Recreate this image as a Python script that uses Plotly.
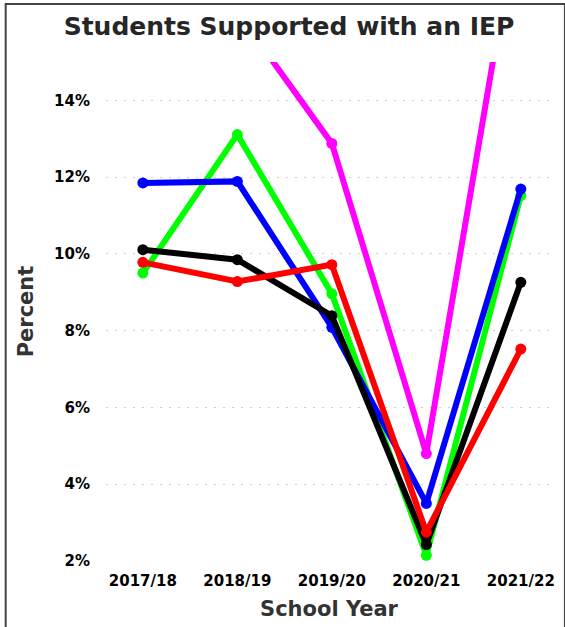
import plotly.graph_objects as go

years = ["2017/18", "2018/19", "2019/20", "2020/21", "2021/22"]
magenta_vals = [16.5, 16.3, 12.88, 4.8, 19.3]
green_vals = [9.5, 13.11, 8.96, 2.15, 11.52]
blue_vals = [11.85, 11.89, 8.09, 3.5, 11.69]
black_vals = [10.11, 9.85, 8.39, 2.43, 9.26]
red_vals = [9.78, 9.28, 9.72, 2.75, 7.52]
y_ticks = [2, 4, 6, 8, 10, 12, 14]
y_tick_labels = ["2%", "4%", "6%", "8%", "10%", "12%", "14%"]

series = [
    ("Magenta", magenta_vals, "#FF00FF"),
    ("Green", green_vals, "#00FF00"),
    ("Blue", blue_vals, "#0000FF"),
    ("Black", black_vals, "#000000"),
    ("Red", red_vals, "#FF0000"),
]

FONT = "DejaVu Sans"
xs = list(range(len(years)))

fig = go.Figure()
for name, vals, col in series:
    fig.add_trace(go.Scatter(
        x=xs, y=vals, name=name, mode="lines+markers",
        line=dict(color=col, width=6),
        marker=dict(color=col, size=11),
        showlegend=False,
    ))

W, H = 565, 627
L, R, T, B = 106, 10, 62, 66
pw, ph = W - L - R, H - T - B

fig.update_layout(
    width=W, height=H,
    margin=dict(l=L, r=R, t=T, b=B),
    paper_bgcolor="white", plot_bgcolor="white",
    title=dict(
        text="Students Supported with an IEP",
        font=dict(family=FONT, size=25, color="#262626", weight="bold"),
        x=289 / W, xref="container", xanchor="center",
        y=1 - 26 / H, yref="container", yanchor="middle",
    ),
    xaxis=dict(
        range=[-0.39, 4.33],
        tickvals=xs, ticktext=years,
        showgrid=False, zeroline=False, showline=False,
        ticks="outside", ticklen=6, tickcolor="rgba(0,0,0,0)",
        tickfont=dict(family=FONT, size=15, color="#000000", weight="bold"),
        title=dict(text="School Year", standoff=12,
                   font=dict(family=FONT, size=21, color="#333333", weight="bold")),
    ),
    yaxis=dict(
        range=[2, 15],
        tickmode="array", tickvals=y_ticks, ticktext=y_tick_labels,
        showgrid=True, gridcolor="#cfcfcf", gridwidth=1, griddash="2px,7px",
        zeroline=False, showline=False,
        ticks="outside", ticklen=12, tickcolor="rgba(0,0,0,0)",
        tickfont=dict(family=FONT, size=15, color="#000000", weight="bold"),
        title=dict(text="Percent", standoff=14,
                   font=dict(family=FONT, size=21, color="#333333", weight="bold")),
    ),
    shapes=[dict(
        type="rect", xref="paper", yref="paper",
        x0=(5 - L) / pw, x1=(W + 3 - L) / pw,
        y0=(T + ph - (H + 3)) / ph, y1=(T + ph - 4) / ph,
        line=dict(color="#444444", width=2), fillcolor="rgba(0,0,0,0)",
        layer="above",
    )],
)

fig.write_html(
    "out.html",
    config={"displayModeBar": False},
    post_script="document.body.style.margin='0';document.body.style.padding='0';document.body.style.overflow='hidden';",
)
